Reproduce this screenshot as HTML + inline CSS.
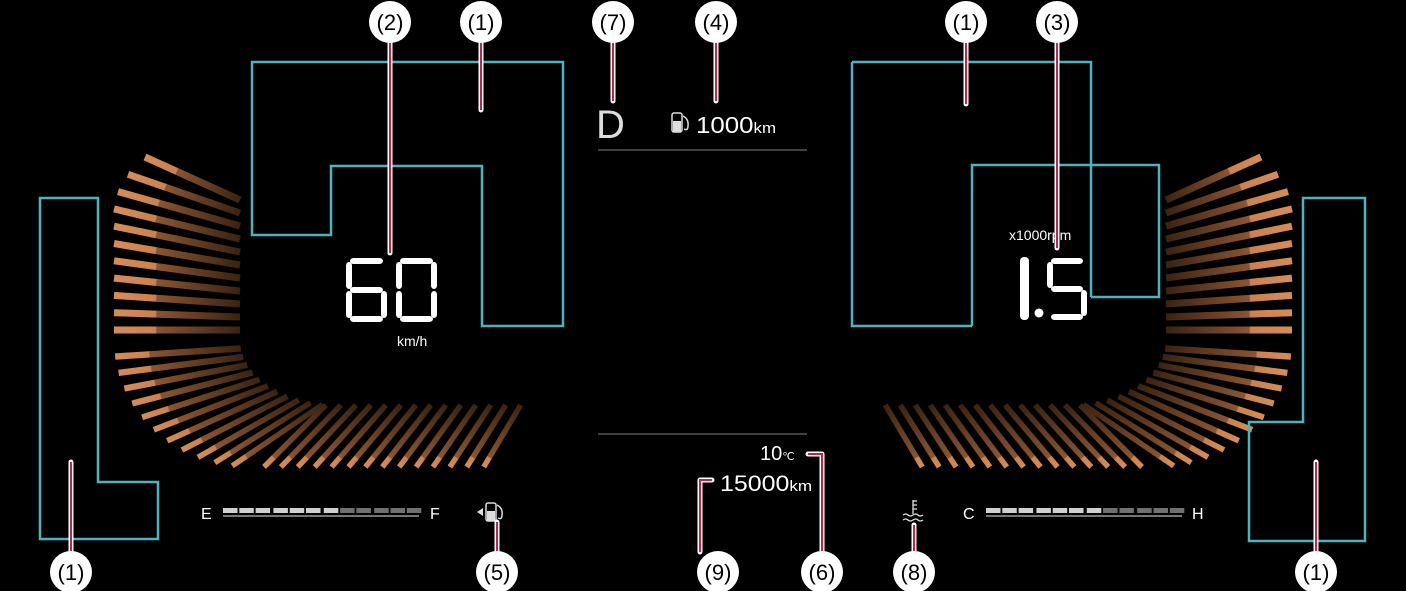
<!DOCTYPE html>
<html><head><meta charset="utf-8"><style>
html,body{margin:0;padding:0;background:#000;}
svg{display:block}
text{font-family:"Liberation Sans",sans-serif;}
</style></head><body>
<svg id="s" width="1406" height="591" viewBox="0 0 1406 591" xmlns="http://www.w3.org/2000/svg">
<defs id="defs"></defs>
<rect width="1406" height="591" fill="#000"/>
<g id="fanL"></g>
<g id="fanR" transform="translate(1406,0) scale(-1,1)"></g>
<g fill="none" stroke="#4fb3bf" stroke-width="2.5">
<path d="M252,62H563V326H482V166H331V235H252Z"/>
<path d="M40,198H98V482H158V539H40Z"/>
<path d="M852,62H1091V297M972,326V165H1159V297H1091M852,62V326H972"/>
<path d="M1303,198H1365V541H1249V422H1303Z"/>
</g>
<line x1="598" y1="150" x2="807" y2="150" stroke="#555" stroke-width="1.5"/>
<line x1="598" y1="434" x2="807" y2="434" stroke="#555" stroke-width="1.5"/>
<text x="596" y="138" font-size="40" fill="#ddd" font-weight="300">D</text>
<g fill="#ddd">
<rect x="672" y="113" width="10" height="19" rx="2" fill="none" stroke="#ddd" stroke-width="1.5"/>
<rect x="673" y="121" width="8" height="11"/>
<path d="M683,116 q6,3 5,10 q0,5 -4,3" fill="none" stroke="#ddd" stroke-width="1.5"/>
</g>
<text x="696" y="133" font-size="23" fill="#fff" textLength="80" lengthAdjust="spacingAndGlyphs">1000<tspan font-size="15">km</tspan></text>
<text x="397" y="346" font-size="14" fill="#fff">km/h</text>
<text x="1009" y="240" font-size="14" fill="#fff">x1000rpm</text>
<text x="760" y="460" font-size="20" fill="#fff">10<tspan font-size="11">℃</tspan></text>
<text x="720" y="491" font-size="22" fill="#fff" textLength="92" lengthAdjust="spacingAndGlyphs">15000<tspan font-size="15">km</tspan></text>
<text x="201" y="519" font-size="16" fill="#fff">E</text>
<text x="430" y="519" font-size="16" fill="#fff">F</text>
<text x="963" y="519" font-size="16" fill="#fff">C</text>
<text x="1192" y="519" font-size="16" fill="#fff">H</text>
<g id="bars"></g>
<g id="digits" fill="#fff"></g>
<g fill="#ddd">
<polygon points="477,512 483,508 483,516"/>
<rect x="486" y="503" width="10" height="18" rx="2" fill="none" stroke="#ddd" stroke-width="1.5"/>
<rect x="487" y="511" width="8" height="10"/>
<path d="M497,505 q6,3 5,10 q0,5 -4,3" fill="none" stroke="#ddd" stroke-width="1.5"/>
</g>
<g stroke="#ddd" stroke-width="1.3" fill="none">
<line x1="913" y1="500" x2="913" y2="514"/><line x1="913" y1="501" x2="917" y2="501"/><line x1="913" y1="505" x2="917" y2="505"/><line x1="913" y1="509" x2="917" y2="509"/>
<path d="M903,515 q3,-2 5,0 t5,0 t5,0 t5,0"/><path d="M903,520 q3,-2 5,0 t5,0 t5,0 t5,0"/>
</g>
<g id="leaders"></g>
<g id="labels"></g>
</svg>
<script>
var NS="http://www.w3.org/2000/svg";
function el(p,t,a){var e=document.createElementNS(NS,t);for(var k in a)e.setAttribute(k,a[k]);p.appendChild(e);return e;}
var DF=document.getElementById('defs');
var S=[];
var lx=[145,128,118,114,114,114,114,114,114,114,114];
for(var i=0;i<11;i++){var yo=157+i*17.3;var yi=200+(yo-157)*(130/173);S.push([lx[i],yo,240,yi,7,0.33]);}
for(var i=1;i<=11;i++){var a=i/12*Math.PI/2;
var ox=250-136*Math.cos(a), oy=340+127*Math.sin(a);
var ix=335-95*Math.cos(a), iy=340+65*Math.sin(a);
S.push([ox,oy,ix,iy,6.5-i*0.1,0.28-i*0.012]);}
for(var i=0;i<14;i++){var ox=264+i*16.9;var off=62-25*i/13;S.push([ox,467,ox+off,405,5.5,0.15]);}
S.forEach(function(s,k){var id='g'+k;
var g=el(DF,'linearGradient',{id:id,gradientUnits:'userSpaceOnUse',x1:s[0],y1:s[1],x2:s[2],y2:s[3]});
el(g,'stop',{offset:0,'stop-color':'#d58c58'});el(g,'stop',{offset:s[5],'stop-color':'#c98250'});
el(g,'stop',{offset:s[5]+0.01,'stop-color':'#8a5532'});el(g,'stop',{offset:1,'stop-color':'#3a2312'});
['fanL','fanR'].forEach(function(f){el(document.getElementById(f),'line',{x1:s[0],y1:s[1],x2:s[2],y2:s[3],stroke:'url(#'+id+')','stroke-width':s[4]});});
});
var B=document.getElementById('bars');
function bar(x0,y){var w=196;for(var i=0;i<12;i++){var sx=x0+i*16.3+Math.floor(i/3)*1.5;el(B,'rect',{x:sx,y:y-3,width:14.5,height:5,fill:i<7?'#d0d0d0':'#707070'});}
el(B,'line',{x1:x0,y1:y+5,x2:x0+w,y2:y+5,stroke:'#bbb','stroke-width':1.3});}
bar(223,511);bar(986,511);
var D=document.getElementById('digits');
var SEG={'6':'afedcg','0':'abcdef','1':'bc','5':'afgcd'};
function digit(ch,x,y,w,h){var t=8,hh=h/2;var s=SEG[ch];
var r={a:[x+t/2,y,w-t,t],d:[x+t/2,y+h-t,w-t,t],g:[x+t/2,y+hh-t/2,w-t,t],f:[x,y+t/2,t,hh-t/2],e:[x,y+hh,t,hh-t/2],b:[x+w-t,y+t/2,t,hh-t/2],c:[x+w-t,y+hh,t,hh-t/2]};
for(var i=0;i<s.length;i++){var q=r[s[i]];el(D,'rect',{x:q[0]+1,y:q[1]+1,width:q[2]-2,height:q[3]-2,rx:3.5});}}
digit('6',345,257,43,66);digit('0',395,257,43,66);
el(D,'rect',{x:1020,y:257,width:9,height:63,rx:4});
el(D,'circle',{cx:1039,cy:313,r:4.5});
digit('5',1046,257,42,64);
var LG=document.getElementById('leaders');
function lead(d){el(LG,'path',{d:d,stroke:'#fff','stroke-width':5,fill:'none','stroke-linecap':'round','stroke-linejoin':'round'});
el(LG,'path',{d:d,stroke:'#b8284a','stroke-width':2,fill:'none'});}
lead('M390,40V253');lead('M481,40V110');lead('M966,40V104');lead('M1057,40V248');
lead('M613,40V101');lead('M716,40V101');lead('M71,552V462');lead('M1316,552V462');
lead('M497,552V522');lead('M914,552V525');lead('M700,552V480H712');lead('M822,552V454H808');
var LB=document.getElementById('labels');
function lab(x,y,t){el(LB,'circle',{cx:x,cy:y,r:21,fill:'#fff'});var e=el(LB,'text',{x:x,y:y+8,'font-size':22,'text-anchor':'middle',fill:'#000'});e.textContent=t;}
lab(390,22,'(2)');lab(481,22,'(1)');lab(613,22,'(7)');lab(716,22,'(4)');lab(966,22,'(1)');lab(1057,22,'(3)');
lab(71,572,'(1)');lab(497,572,'(5)');lab(718,572,'(9)');lab(822,572,'(6)');lab(914,572,'(8)');lab(1316,572,'(1)');
</script>
</body></html>
